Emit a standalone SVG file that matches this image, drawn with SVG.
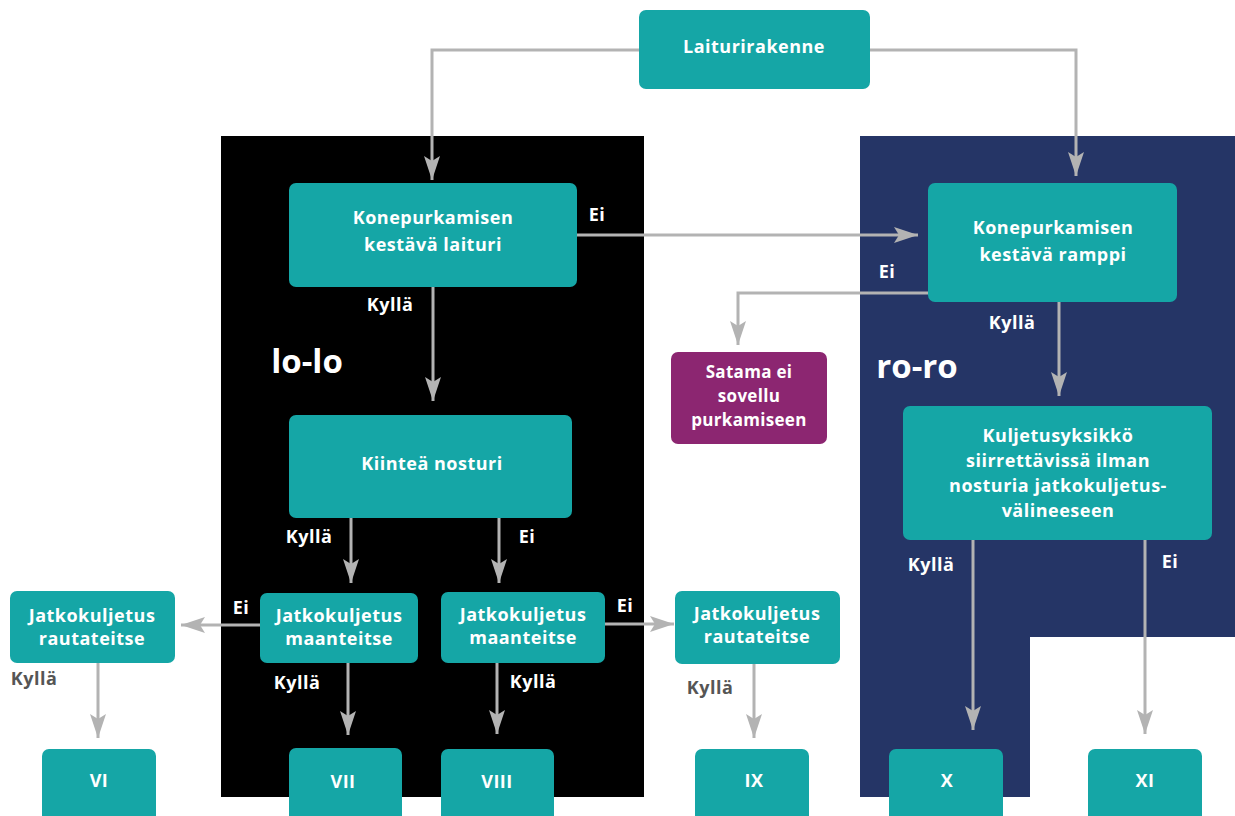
<svg xmlns="http://www.w3.org/2000/svg" width="1235" height="816" viewBox="0 0 1235 816">
<style>
.box{fill:#15A6A6}
.purple{fill:#8C2671}
.t{font-family:"Open Sans","Liberation Sans",sans-serif;font-weight:700;font-size:18px;letter-spacing:0.5px;fill:#fff;text-anchor:middle}
.ts{font-size:17px;letter-spacing:0.3px}
.lbl{font-family:"Open Sans","Liberation Sans",sans-serif;font-weight:700;font-size:18px;letter-spacing:0.5px;fill:#fff;text-anchor:middle}
.lblg{fill:#555}
.big{font-family:"Open Sans","Liberation Sans",sans-serif;font-weight:700;font-size:33px;fill:#fff;text-anchor:middle}
.c{fill:none;stroke:#B3B3B3;stroke-width:3}
</style>
<defs>
<marker id="ah" viewBox="0 0 24 16" refX="24" refY="8" markerWidth="24" markerHeight="16" markerUnits="userSpaceOnUse" orient="auto">
<path d="M0,0 L24,8 L0,16 L5,8 Z" fill="#B3B3B3"/>
</marker>
</defs>
<rect width="1235" height="816" fill="#fff"/>
<g id="panels">
<rect x="221" y="136" width="423" height="661" fill="#000"/>
<polygon points="860,136 1235,136 1235,637 1030,637 1030,797 860,797" fill="#253566"/>
<text class="big" x="307" y="373">lo-lo</text>
<text class="big" x="917" y="378">ro-ro</text>
</g>
<g id="connectors">
<polyline class="c" points="639,50 432,50 432,180" marker-end="url(#ah)"/>
<polyline class="c" points="870,50 1076,50 1076,176" marker-end="url(#ah)"/>
<line class="c" x1="577" y1="235" x2="918" y2="235" marker-end="url(#ah)"/>
<line class="c" x1="433" y1="287" x2="433" y2="401" marker-end="url(#ah)"/>
<polyline class="c" points="928,293 738,293 738,345" marker-end="url(#ah)"/>
<line class="c" x1="1059" y1="302" x2="1059" y2="396" marker-end="url(#ah)"/>
<line class="c" x1="351" y1="518" x2="351" y2="583" marker-end="url(#ah)"/>
<line class="c" x1="499" y1="518" x2="499" y2="583" marker-end="url(#ah)"/>
<line class="c" x1="260" y1="625" x2="181" y2="625" marker-end="url(#ah)"/>
<line class="c" x1="605" y1="624" x2="674" y2="624" marker-end="url(#ah)"/>
<line class="c" x1="98" y1="663" x2="98" y2="738" marker-end="url(#ah)"/>
<line class="c" x1="348" y1="663" x2="348" y2="735" marker-end="url(#ah)"/>
<line class="c" x1="497" y1="663" x2="497" y2="734" marker-end="url(#ah)"/>
<line class="c" x1="754" y1="664" x2="754" y2="738" marker-end="url(#ah)"/>
<line class="c" x1="973" y1="540" x2="973" y2="730" marker-end="url(#ah)"/>
<line class="c" x1="1145" y1="540" x2="1145" y2="734" marker-end="url(#ah)"/>
</g>
<g id="labels">
<text class="lbl" x="597" y="221">Ei</text>
<text class="lbl" x="390" y="311">Kyllä</text>
<text class="lbl" x="887" y="278">Ei</text>
<text class="lbl" x="1012" y="329">Kyllä</text>
<text class="lbl" x="309" y="543">Kyllä</text>
<text class="lbl" x="527" y="543">Ei</text>
<text class="lbl" x="241" y="614">Ei</text>
<text class="lbl" x="625" y="612">Ei</text>
<text class="lbl lblg" x="34" y="685">Kyllä</text>
<text class="lbl" x="297" y="689">Kyllä</text>
<text class="lbl" x="533" y="688">Kyllä</text>
<text class="lbl lblg" x="710" y="694">Kyllä</text>
<text class="lbl" x="931" y="571">Kyllä</text>
<text class="lbl" x="1170" y="568">Ei</text>
</g>
<g id="laiturirakenne"><rect class="box" x="639" y="10" width="231" height="79" rx="7"/><text class="t" x="754" y="53">Laiturirakenne</text></g>
<g id="laituri"><rect class="box" x="289" y="183" width="288" height="104" rx="7"/><text class="t" x="433" y="224">Konepurkamisen</text><text class="t" x="433" y="251">kestävä laituri</text></g>
<g id="ramppi"><rect class="box" x="928" y="183" width="249" height="119" rx="7"/><text class="t" x="1053" y="234">Konepurkamisen</text><text class="t" x="1053" y="261">kestävä ramppi</text></g>
<g id="satama"><rect class="purple" x="671" y="352" width="156" height="92" rx="7"/><text class="t ts" x="749" y="378">Satama ei</text><text class="t ts" x="749" y="402">sovellu</text><text class="t ts" x="749" y="426">purkamiseen</text></g>
<g id="nosturi"><rect class="box" x="289" y="415" width="283" height="103" rx="7"/><text class="t" x="432" y="470">Kiinteä nosturi</text></g>
<g id="kuljetusyksikko"><rect class="box" x="903" y="406" width="309" height="134" rx="7"/><text class="t" x="1058" y="442">Kuljetusyksikkö</text><text class="t" x="1058" y="467">siirrettävissä ilman</text><text class="t" x="1058" y="492">nosturia jatkokuljetus-</text><text class="t" x="1058" y="517">välineeseen</text></g>
<g id="maanteitse1"><rect class="box" x="260" y="593" width="158" height="70" rx="7"/><text class="t" x="339" y="622">Jatkokuljetus</text><text class="t" x="339" y="645">maanteitse</text></g>
<g id="maanteitse2"><rect class="box" x="441" y="592" width="164" height="71" rx="7"/><text class="t" x="523" y="621">Jatkokuljetus</text><text class="t" x="523" y="644">maanteitse</text></g>
<g id="rautateitse1"><rect class="box" x="10" y="591" width="165" height="72" rx="7"/><text class="t" x="92" y="622">Jatkokuljetus</text><text class="t" x="92" y="645">rautateitse</text></g>
<g id="rautateitse2"><rect class="box" x="675" y="591" width="165" height="73" rx="7"/><text class="t" x="757" y="620">Jatkokuljetus</text><text class="t" x="757" y="643">rautateitse</text></g>
<g id="VI"><rect class="box" x="42" y="749" width="114" height="75" rx="7"/><text class="t" x="99" y="787">VI</text></g>
<g id="VII"><rect class="box" x="289" y="748" width="113" height="76" rx="7"/><text class="t" x="343" y="788">VII</text></g>
<g id="VIII"><rect class="box" x="441" y="749" width="113" height="75" rx="7"/><text class="t" x="497" y="788">VIII</text></g>
<g id="IX"><rect class="box" x="695" y="749" width="114" height="75" rx="7"/><text class="t" x="754" y="787">IX</text></g>
<g id="X"><rect class="box" x="889" y="749" width="114" height="75" rx="7"/><text class="t" x="947" y="787">X</text></g>
<g id="XI"><rect class="box" x="1088" y="749" width="114" height="75" rx="7"/><text class="t" x="1145" y="787">XI</text></g>
</svg>
